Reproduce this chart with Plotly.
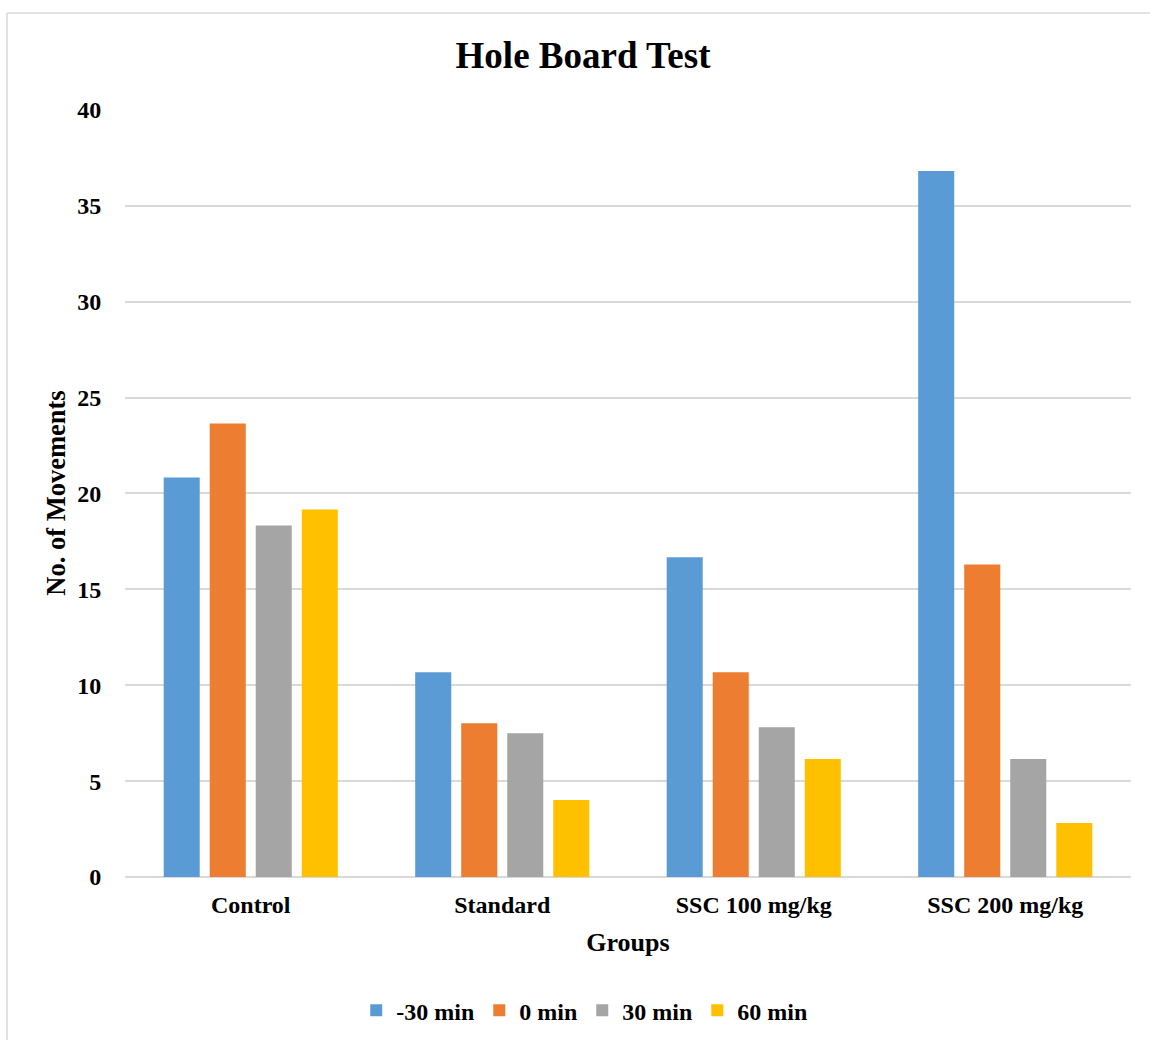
import plotly.graph_objects as go

groups = ["Control", "Standard", "SSC 100 mg/kg", "SSC 200 mg/kg"]
series_names = ["-30 min", "0 min", "30 min", "60 min"]
minus30 = [20.83, 10.68, 16.67, 36.82]
min0 = [23.65, 8.02, 10.68, 16.30]
min30 = [18.33, 7.50, 7.81, 6.15]
min60 = [19.17, 4.01, 6.15, 2.81]
colors = ["#5B9BD5", "#ED7D31", "#A5A5A5", "#FFC000"]
y_ticks = [0, 5, 10, 15, 20, 25, 30, 35, 40]

FONT = "Liberation Serif, Times New Roman, serif"

fig = go.Figure()
for name, vals, col in zip(series_names, [minus30, min0, min30, min60], colors):
    fig.add_trace(go.Bar(name=name, x=groups, y=vals, marker=dict(color=col, line=dict(width=0))))

fig.update_layout(
    width=1150, height=1040,
    margin=dict(l=125, r=19, t=109, b=163, autoexpand=False),
    paper_bgcolor="white", plot_bgcolor="white",
    barmode="group", bargap=0.268, bargroupgap=0.217,
    font=dict(family=FONT, color="black", size=24, weight="bold"),
    title=dict(text="Hole Board Test", x=0.507, xanchor="center", y=0.947, yanchor="middle",
               font=dict(size=37, family=FONT, color="black", weight="bold")),
    legend=dict(orientation="h", x=0.457, xanchor="center", y=-0.174, yanchor="middle",
                font=dict(size=24, family=FONT, color="black", weight="bold"), itemwidth=30,
                traceorder="normal"),
    showlegend=True,
)
fig.update_xaxes(
    showgrid=False, showline=False, ticks="outside", ticklen=6, tickcolor="rgba(0,0,0,0)",
    tickfont=dict(size=24, family=FONT, color="black", weight="bold"),
    title=dict(text="Groups", font=dict(size=26, family=FONT, weight="bold"), standoff=16),
)
fig.update_yaxes(
    range=[0, 40.05], tickvals=y_ticks, showgrid=True, gridcolor="#D9D9D9", gridwidth=1.5,
    zeroline=True, zerolinecolor="#D9D9D9", zerolinewidth=1.5, showline=False,
    ticks="outside", ticklen=18, tickcolor="rgba(0,0,0,0)",
    tickfont=dict(size=24, family=FONT, color="black", weight="bold"),
    title=dict(text="No. of Movements", font=dict(size=26.5, family=FONT, weight="bold"), standoff=3),
)

# light frame around the chart area
fig.add_shape(type="line", xref="paper", yref="paper",
              x0=(7 - 125) / 1006, x1=1.2, y0=(877 - 13) / 768, y1=(877 - 13) / 768,
              line=dict(color="#D9D9D9", width=1.5))
fig.add_shape(type="line", xref="paper", yref="paper",
              x0=(7 - 125) / 1006, x1=(7 - 125) / 1006, y0=(877 - 13) / 768, y1=-0.3,
              line=dict(color="#D9D9D9", width=1.5))

fig.write_html("out.html")
